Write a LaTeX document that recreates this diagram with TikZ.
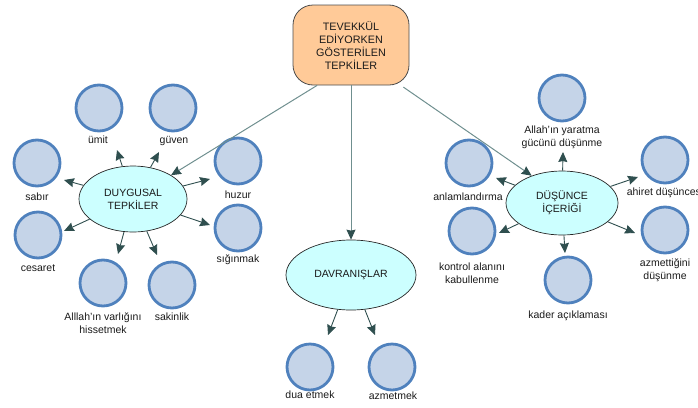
\documentclass[tikz,border=0pt]{standalone}
\usepackage{fontspec}
\setmainfont{Liberation Sans}
\usetikzlibrary{arrows.meta,shapes.geometric}
\definecolor{circF}{HTML}{C5D4E8}
\definecolor{circB}{HTML}{4F81BD}
\definecolor{ellF}{HTML}{CCFFFF}
\definecolor{boxF}{HTML}{FFCA98}
\definecolor{arrC}{HTML}{2F4F4F}
\definecolor{topC}{HTML}{6F8F8F}
\definecolor{txtC}{HTML}{1A1A1A}
\begin{document}
\begin{tikzpicture}[x=1pt,y=-1pt,
  circ/.style={circle, draw=circB, line width=2.8pt, fill=circF, minimum size=46pt, inner sep=0pt},
  lbl/.style={font=\fontsize{10.5}{13}\selectfont, align=center, text=txtC, inner sep=1pt},
  ell/.style={ellipse, draw=black!85, fill=ellF, line width=0.7pt, inner sep=0pt,
    font=\fontsize{10.5}{13}\selectfont, align=center, text=txtC},
  topbox/.style={rectangle, rounded corners=20pt, draw=black!70, fill=boxF, line width=0.8pt,
    minimum width=116pt, minimum height=80pt, inner sep=0pt,
    font=\fontsize{10.8}{13}\selectfont, align=center, text=txtC},
  arr/.style={draw=arrC, line width=0.9pt, -{Stealth[length=10pt,width=9pt,inset=1pt]}},
  tarr/.style={draw=topC, line width=1pt, -{Stealth[length=10pt,width=9pt,inset=1pt,color=arrC]}},
]
\useasboundingbox (0,0) rectangle (698,407);
\clip (0,0) rectangle (698,407);

% main nodes
\node[topbox] (box) at (351,45) {TEVEKKÜL\\EDİYORKEN\\GÖSTERİLEN\\TEPKİLER};
\node[ell, minimum width=108pt, minimum height=66pt] (duy) at (133,199) {DUYGUSAL\\TEPKİLER};
\node[ell, minimum width=130pt, minimum height=70pt] (dav) at (351,275) {DAVRANIŞLAR};
\node[ell, minimum width=112pt, minimum height=64pt] (dus) at (562,203) {DÜŞÜNCE\\İÇERİĞİ};

% circles (DUYGUSAL)
\node[circ] (c-umit) at (99,108) {};
\node[circ] (c-guven) at (173,108) {};
\node[circ] (c-sabir) at (37,163) {};
\node[circ] (c-huzur) at (238,161) {};
\node[circ] (c-cesaret) at (38,235) {};
\node[circ] (c-siginmak) at (238,228) {};
\node[circ] (c-varlik) at (103,283) {};
\node[circ] (c-sakinlik) at (172,285) {};
% circles (DAVRANIŞLAR)
\node[circ] (c-dua) at (310,367) {};
\node[circ] (c-azm) at (392,367) {};
% circles (DÜŞÜNCE)
\node[circ] (c-yaratma) at (562,98) {};
\node[circ] (c-anlam) at (469,163) {};
\node[circ] (c-ahiret) at (665,160) {};
\node[circ] (c-kontrol) at (472,231) {};
\node[circ] (c-azmettigi) at (665,230) {};
\node[circ] (c-kader) at (568,280) {};

% labels
\node[lbl] (l-umit) at (98,140) {ümit};
\node[lbl] (l-guven) at (174,141) {güven};
\node[lbl] (l-sabir) at (37,197) {sabır};
\node[lbl] (l-huzur) at (238,195) {huzur};
\node[lbl] (l-cesaret) at (38,268) {cesaret};
\node[lbl] (l-siginmak) at (238,260) {sığınmak};
\node[lbl] (l-varlik) at (103,323) {Alllah'ın varlığını\\hissetmek};
\node[lbl] (l-sakinlik) at (172,317) {sakinlik};
\node[lbl] (l-dua) at (310,395) {dua etmek};
\node[lbl] (l-azm) at (393,396) {azmetmek};
\node[lbl] (l-yaratma) at (562,137) {Allah'ın yaratma\\gücünü düşünme};
\node[lbl] (l-anlam) at (468,197) {anlamlandırma};
\node[lbl] (l-ahiret) at (665,193) {ahiret düşüncesi};
\node[lbl] (l-kontrol) at (472,273) {kontrol alanını\\kabullenme};
\node[lbl] (l-azmettigi) at (665,270) {azmettiğini\\düşünme};
\node[lbl] (l-kader) at (568,316) {kader açıklaması};

% arrow tips
\coordinate (t-umit) at (117,150);
\coordinate (t-guven) at (159,152);
\coordinate (t-sabir) at (64,180);
\coordinate (t-huzur) at (210,179);
\coordinate (t-cesaret) at (64,231);
\coordinate (t-siginmak) at (210,225);
\coordinate (t-varlik) at (118,254);
\coordinate (t-sakinlik) at (157,255);
\coordinate (t-dua) at (328,335);
\coordinate (t-azm) at (375,335);
\coordinate (t-yaratma) at (563,152);
\coordinate (t-anlam) at (496,178);
\coordinate (t-ahiret) at (638,177);
\coordinate (t-kontrol) at (499,233);
\coordinate (t-azmettigi) at (635,233);
\coordinate (t-kader) at (565,253);

% top arrows
\draw[tarr] (box.-130) -- (duy.32);
\draw[tarr] (box.south) -- (dav.north);
\draw[tarr, shorten <=3pt] (box.-39) -- (dus.138);

% child arrows
\foreach \t in {umit,guven,sabir,huzur,cesaret,siginmak,varlik,sakinlik}
  \draw[arr] (duy) -- (t-\t);
\foreach \t in {dua,azm}
  \draw[arr] (dav) -- (t-\t);
\foreach \t in {yaratma,anlam,ahiret,kontrol,azmettigi,kader}
  \draw[arr] (dus) -- (t-\t);
\end{tikzpicture}
\end{document}
